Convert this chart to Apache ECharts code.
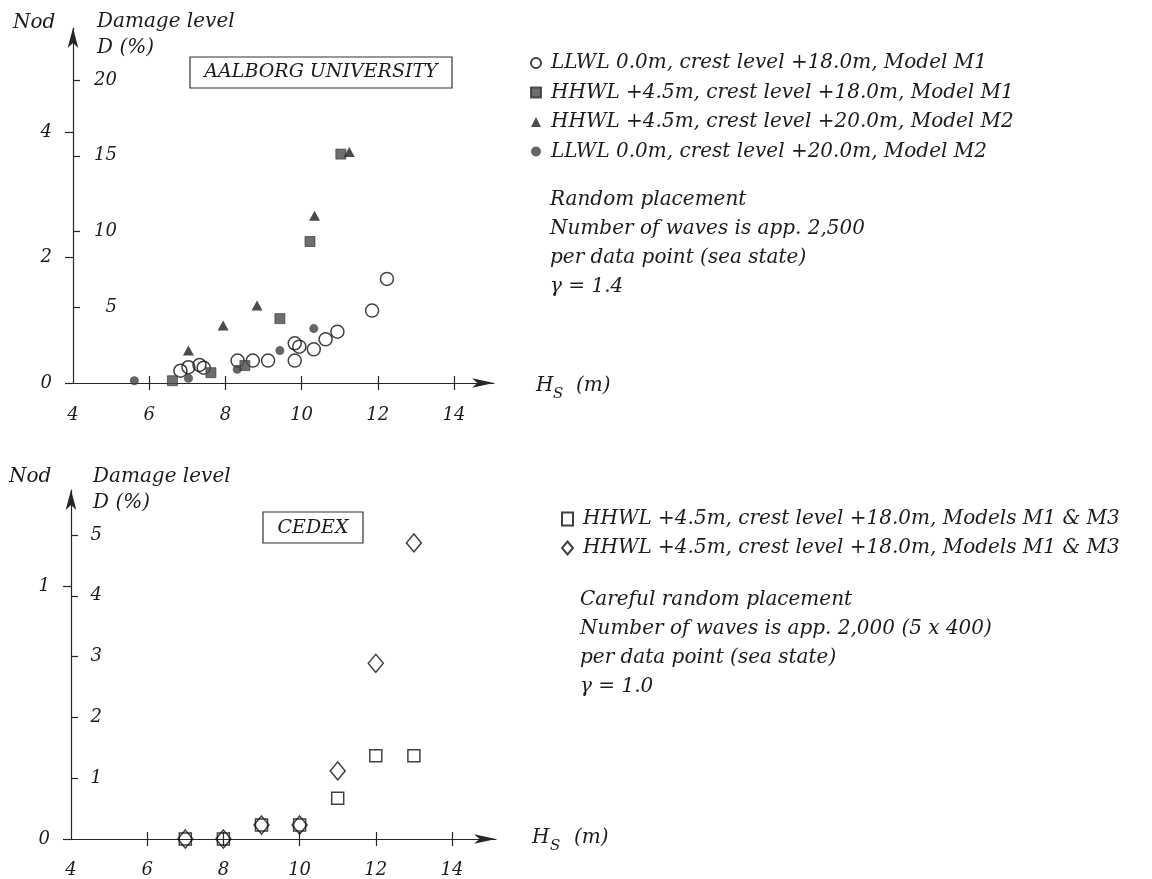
<!DOCTYPE html>
<html><head><meta charset="utf-8">
<script src="https://cdn.jsdelivr.net/npm/echarts@6/dist/echarts.min.js"></script>
<style>html,body{margin:0;padding:0;background:#fff}#c{width:1152px;height:879px}</style>
</head><body><div id="c"></div>
<script>
// ---------- data (Hs in m, D in %) ----------
const xTicks = [4, 6, 8, 10, 12, 14];
const topDTicks = [5, 10, 15, 20];
const topNodTicks = [0, 2, 4];
const botDTicks = [1, 2, 3, 4, 5];
const botNodTicks = [0, 1];

const topNames = [
  'LLWL 0.0m, crest level +18.0m, Model M1',
  'HHWL +4.5m, crest level +18.0m, Model M1',
  'HHWL +4.5m, crest level +20.0m, Model M2',
  'LLWL 0.0m, crest level +20.0m, Model M2'
];
const botNames = [
  'HHWL +4.5m, crest level +18.0m, Models M1 & M3',
  'HHWL +4.5m, crest level +18.0m, Models M1 & M3'
];
const topNotes = ['Random placement', 'Number of waves is app. 2,500', 'per data point (sea state)', 'γ = 1.4'];
const botNotes = ['Careful random placement', 'Number of waves is app. 2,000 (5 x 400)', 'per data point (sea state)', 'γ = 1.0'];

const llwl18M1 = [[6.82,0.81],[7.03,1.04],[7.32,1.19],[7.43,1.01],[8.32,1.48],[8.72,1.48],[9.12,1.48],[9.82,1.48],[9.82,2.62],[9.94,2.40],[10.32,2.22],[10.63,2.88],[10.94,3.39],[11.85,4.78],[12.24,6.87]];
const hhwl18M1 = [[6.61,0.15],[7.62,0.68],[8.51,1.15],[9.43,4.25],[10.22,9.34],[11.03,15.11]];
const hhwl20M2 = [[7.03,2.14],[7.94,3.79],[8.83,5.11],[10.34,11.04],[11.25,15.25]];
const llwl20M2 = [[5.61,0.15],[7.03,0.31],[8.31,0.90],[9.43,2.14],[10.32,3.59]];
const cedexSquares = [[7,0],[8,0],[9,0.23],[10,0.23],[11,0.67],[12,1.37],[13,1.37]];
const cedexDiamonds = [[7,0],[8,0],[9,0.23],[10,0.23],[11,1.12],[12,2.89],[13,4.87]];

// ---------- styling ----------
const FONT = "'DejaVu Serif', serif";
const INK = '#1c1c1c';
const AX = '#262626';
const lbl = {fontFamily: FONT, fontStyle: 'italic', fontSize: 18, color: INK};

function xAxes(grid, max, margin) {
  return [{
    gridIndex: grid, type: 'value', min: 4, max: max, position: 'bottom',
    axisLine: {show: true, onZero: false, symbol: ['none', 'arrow'], symbolSize: [7, 22], lineStyle: {color: AX, width: 1.2}},
    axisTick: {show: true, length: 7, customValues: xTicks.slice(1), lineStyle: {color: AX, width: 1.2}},
    axisLabel: Object.assign({margin: margin, customValues: xTicks}, lbl),
    splitLine: {show: false}
  }, {
    gridIndex: grid, type: 'value', min: 4, max: max, position: 'bottom',
    axisLine: {show: false, onZero: false},
    axisTick: {show: true, inside: true, length: 7, customValues: xTicks.slice(1), lineStyle: {color: AX, width: 1.2}},
    axisLabel: {show: false}, splitLine: {show: false}
  }];
}
function yAxes(grid, dMax, nodMax, dTicks, nodTicks, dMargin) {
  return [{
    gridIndex: grid, type: 'value', min: 0, max: dMax, position: 'left',
    axisLine: {show: true, onZero: false, symbol: ['none', 'arrow'], symbolSize: [8, 20], lineStyle: {color: AX, width: 1.2}},
    axisTick: {show: true, inside: true, length: 7, customValues: dTicks, lineStyle: {color: AX, width: 1.2}},
    axisLabel: Object.assign({inside: true, align: 'right', margin: dMargin, customValues: dTicks}, lbl),
    splitLine: {show: false}
  }, {
    gridIndex: grid, type: 'value', min: 0, max: nodMax, position: 'left',
    axisLine: {show: false, onZero: false},
    axisTick: {show: true, length: 8, customValues: nodTicks, lineStyle: {color: AX, width: 1.2}},
    axisLabel: Object.assign({margin: 21, customValues: nodTicks}, lbl),
    splitLine: {show: false}
  }];
}

function txt(t, x, y, size, align) {
  return {type: 'text', x: x, y: y, silent: true,
    style: {text: t, font: 'italic ' + (size || 20) + 'px ' + FONT, fill: INK, align: align || 'left', verticalAlign: 'middle'}};
}
function box(x, y, w, h) {
  return {type: 'rect', shape: {x: x, y: y, width: w, height: h}, silent: true,
    style: {fill: 'none', stroke: '#333', lineWidth: 1.2}};
}

const graphics = [
  txt('Nod', 13, 23), txt('Damage level', 97, 22), txt('D (%)', 97, 48),
  box(190, 57, 262, 31), txt('AALBORG UNIVERSITY', 321, 72, 19, 'center'),
  txt('H', 536, 386), txt('S', 553, 394, 15), txt('(m)', 576, 386),
  txt('Nod', 9, 477), txt('Damage level', 93, 477), txt('D (%)', 93, 503),
  box(263, 512, 100, 31), txt('CEDEX', 313, 528, 19, 'center'),
  txt('H', 532, 838), txt('S', 550, 846, 15), txt('(m)', 574, 838)
];
topNotes.forEach((t, i) => graphics.push(txt(t, 550, 200 + i * 29)));
botNotes.forEach((t, i) => graphics.push(txt(t, 580, 600 + i * 29)));

const legendText = {fontFamily: FONT, fontStyle: 'italic', fontSize: 20, color: INK, lineHeight: 20};

const option = {
  animation: false,
  backgroundColor: '#ffffff',
  grid: [
    {left: 73, top: 28, width: 421, height: 355},
    {left: 71, top: 490, width: 425, height: 349}
  ],
  xAxis: [].concat(xAxes(0, 4 + 421 / 38.1, 23), xAxes(1, 4 + 425 / 38.1, 22)),
  yAxis: [].concat(yAxes(0, 355 / 15.15, 355 / 62.75, topDTicks, topNodTicks, 44),
                   yAxes(1, 349 / 60.8, 349 / 253, botDTicks, botNodTicks, 31)),
  legend: [{
    data: ['s0', 's1', 's2', 's3'], orient: 'vertical', left: 530, top: 53, padding: 0,
    itemWidth: 10, itemHeight: 10, itemGap: 9.5, selectedMode: false,
    formatter: n => topNames[+n.slice(1)],
    textStyle: Object.assign({padding: [0, 0, 0, 5]}, legendText)
  }, {
    data: ['b0', 'b1'], orient: 'vertical', left: 561, top: 509, padding: 0,
    itemWidth: 11, itemHeight: 13, itemGap: 9, selectedMode: false,
    formatter: n => botNames[+n.slice(1)],
    textStyle: Object.assign({padding: [0, 0, 0, 5]}, legendText)
  }],
  graphic: graphics,
  series: [
    {name: 's0', type: 'scatter', xAxisIndex: 0, yAxisIndex: 0, data: llwl18M1, symbol: 'circle', symbolSize: 13,
      itemStyle: {color: 'transparent', borderColor: '#111', borderWidth: 1.5}},
    {name: 's1', type: 'scatter', xAxisIndex: 0, yAxisIndex: 0, data: hhwl18M1, symbol: 'rect', symbolSize: 10,
      itemStyle: {color: '#4a4a4a', borderColor: '#333', borderWidth: 0.8}},
    {name: 's2', type: 'scatter', xAxisIndex: 0, yAxisIndex: 0, data: hhwl20M2, symbol: 'triangle', symbolSize: [11, 10],
      itemStyle: {color: '#1e1e1e'}},
    {name: 's3', type: 'scatter', xAxisIndex: 0, yAxisIndex: 0, data: llwl20M2, symbol: 'circle', symbolSize: 9,
      itemStyle: {color: '#404040'}},
    {name: 'b0', type: 'scatter', xAxisIndex: 2, yAxisIndex: 2, data: cedexSquares, symbol: 'rect', symbolSize: 12,
      itemStyle: {color: 'transparent', borderColor: '#111', borderWidth: 1.5}},
    {name: 'b1', type: 'scatter', xAxisIndex: 2, yAxisIndex: 2, data: cedexDiamonds, symbol: 'diamond', symbolSize: [15, 18],
      itemStyle: {color: 'transparent', borderColor: '#111', borderWidth: 1.5}}
  ]
};
const chart = echarts.init(document.getElementById('c'), null, {renderer: 'canvas'});
chart.setOption(option);
</script></body></html>
